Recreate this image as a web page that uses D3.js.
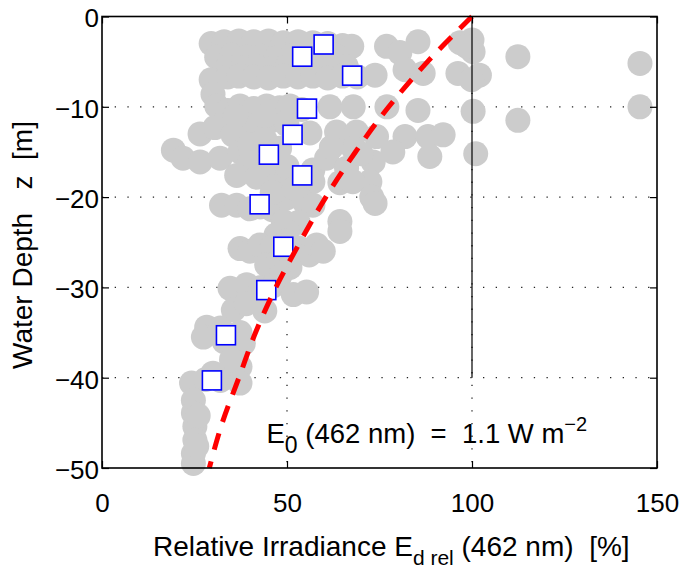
<!DOCTYPE html>
<html>
<head>
<meta charset="utf-8">
<script src="https://cdn.jsdelivr.net/npm/d3@7"></script>
<style>
  body { margin: 0; background: #fff; }
  svg { display: block; }
  text { font-family: "Liberation Sans", Arial, Helvetica, sans-serif; fill: #000; }
</style>
</head>
<body>
<svg id="drawing"></svg>
<script>
// grey circles: [relative irradiance %, depth m]
const grayPoints = [
    // top band
    [29.5,-3.0],[33,-2.8],[37,-2.7],[41,-2.8],[45,-2.7],[49,-2.9],[53,-2.8],[57,-2.9],[61,-3.0],[65,-3.2],[67.5,-3.3],
    [31,-4.5],[35,-4.3],[39,-4.5],[43,-4.4],[47,-4.6],[51,-4.4],[59,-4.5],[63,-4.3],
    [34,-5.6],[38,-5.7],[42,-5.6],[46,-5.7],[50,-5.6],[54,-5.7],[58,-5.6],[62,-5.7],[66,-5.5],
    [76.9,-3.3],[80.5,-4.0],[85.4,-2.8],[96.8,-2.9],[100,-2.6],[100.3,-3.9],[98.6,-3.3],
    [112.4,-4.45],[145.4,-5.2],
    // around -6.5
    [29.5,-7.0],[34,-6.7],[37,-6.6],[41,-6.7],[45,-6.8],[49,-6.6],[53,-6.7],[57,-6.6],[61,-6.8],[65,-6.6],[69,-6.7],[73.8,-6.5],
    [81.9,-5.9],[86.8,-6.3],[96.2,-6.3],[102,-6.5],[99.9,-7.0],[30,-8.6],
    // around -10
    [31,-9.9],[34,-10.4],[37.3,-9.9],[41,-10.2],[44.5,-9.9],[48,-10.1],[50.8,-9.9],[54,-10.3],[61.6,-10.0],[67.9,-10.0],
    [77,-10],[85.4,-10.4],[100.3,-10.5],[112.4,-11.5],[145.4,-10],
    [34,-12],[38,-11.8],[42,-12],[46,-11.5],[50,-12],[56.2,-12.9],[36,-11],[44,-11],
    // -12 to -18
    [63.4,-12.8],[68.8,-12.8],[74.2,-13.3],[81.9,-13.3],[88.1,-13.3],[92.2,-13.1],[78.6,-15],[88.6,-15.5],[101,-15.2],
    [19.3,-14.8],[21.9,-15.7],[26.5,-16.1],[26.5,-13],[30.5,-12.3],[31.9,-15.7],[35.4,-13.1],[37.3,-15],
    [40,-14.2],[44,-13.6],[48,-14.6],[40,-16.2],
    [36.4,-17.6],[41.8,-17.8],[48,-17.8],[46,-16.2],[50,-16.6],[57,-17],[60.7,-15.7],[66.1,-16.8],[67.9,-14.6],
    [73.3,-16.1],[72.4,-18.3],[64.3,-18.4],[57,-18.3],[67.8,-18.3],[70,-15.2],[62,-14.5],
    // around -21
    [32.3,-20.9],[36.4,-20.9],[40,-21.3],[42.7,-21.1],[46,-21.4],[49.9,-20.1],[54.6,-20.5],[57,-20.9],[46,-19.5],[52,-19],
    [72.9,-20],[73.8,-20.7],[64.3,-22.7],[64.3,-23.8],[49,-22.7],[53,-22.8],
    // around -26
    [50,-23.8],[47,-24.2],[37.3,-25.7],[40,-26],[42.7,-25.3],[46,-25.5],[49.9,-24.9],[53,-25.6],[56,-26.4],[58,-25.3],[59.8,-26],
    [44.5,-27.5],[47.5,-27.2],[50.8,-27.8],[48,-28.8],
    // around -30
    [34.6,-30.1],[39.1,-29.7],[43,-30],[46.3,-29.8],[51.7,-30.8],[55.3,-30.5],[42.7,-31.4],[35.5,-32.5],[39,-31.8],[44,-32.6],
    // around -35
    [28.3,-34.4],[27.4,-35.5],[32,-34.5],[37.3,-35],[38.2,-36.2],[33,-36],[37.3,-38.8],[35,-38],
    // around -40 and below
    [24.2,-40.6],[28,-40.2],[32,-40.3],[37.3,-40.6],[30,-39.5],
    [24.7,-42.5],[24.7,-43.9],[25.1,-45.4],[25.1,-46.9],[24.7,-48.4],[24.7,-49.5],[26,-44.2],[25.6,-47.6]
];

// blue squares
const squareX = [59.9, 54.1, 67.6, 55.4, 51.5, 45.1, 54.1, 42.6, 49.0, 44.4, 33.5, 29.7];
const squareZ = [-3.1, -4.45, -6.55, -10.2, -13.1, -15.3, -17.6, -20.8, -25.5, -30.3, -35.3, -40.3];

// red dashed profile
const lineZ = [0, -5, -10, -15, -20, -25, -30, -35, -40, -45, -50];
const lineE = [100, 88, 77.5, 68.5, 60.5, 53.5, 47, 41.5, 37, 32.5, 29];

const xTicks = [0, 50, 100, 150];
const yTicks = [0, -10, -20, -30, -40, -50];
const xGrid = [50, 100];
const yGrid = [-10, -20, -30, -40];

const width = 683, height = 569;
const margin = { top: 16.5, right: 26, bottom: 101, left: 102 };
const innerWidth = width - margin.left - margin.right;
const innerHeight = height - margin.top - margin.bottom;

const svg = d3.select('#drawing')
    .attr('width', width)
    .attr('height', height);

const chart = svg.append('g')
    .attr('transform', `translate(${margin.left}, ${margin.top})`);

const xscale = d3.scaleLinear().domain([0, 150]).range([0, innerWidth]);
const yscale = d3.scaleLinear().domain([-50, 0]).range([innerHeight, 0]);

// dotted grid
chart.selectAll('.gx').data(xGrid).enter().append('line')
    .attr('x1', d => xscale(d)).attr('x2', d => xscale(d))
    .attr('y1', 0).attr('y2', innerHeight)
    .attr('stroke', '#222').attr('stroke-width', 1.3)
    .attr('stroke-dasharray', '1.3,11.4');
chart.selectAll('.gy').data(yGrid).enter().append('line')
    .attr('x1', 0).attr('x2', innerWidth)
    .attr('y1', d => yscale(d)).attr('y2', d => yscale(d))
    .attr('stroke', '#222').attr('stroke-width', 1.3)
    .attr('stroke-dasharray', '1.3,11.4');

// grey measurements
chart.selectAll('circle').data(grayPoints).enter().append('circle')
    .attr('cx', d => xscale(d[0]))
    .attr('cy', d => yscale(d[1]))
    .attr('r', 12.5)
    .attr('fill', '#cccccc');

// 100 % reference line
chart.append('line')
    .attr('x1', xscale(100)).attr('x2', xscale(100))
    .attr('y1', yscale(0)).attr('y2', yscale(-40))
    .attr('stroke', '#000').attr('stroke-width', 1.2);

// squares
const sq = 19;
chart.selectAll('.sq').data(squareX).enter().append('rect')
    .attr('x', (d, i) => xscale(d) - sq / 2)
    .attr('y', (d, i) => yscale(squareZ[i]) - sq / 2)
    .attr('width', sq).attr('height', sq)
    .attr('fill', '#fff').attr('stroke', '#0000ff').attr('stroke-width', 1.6);

// red profile
const line = d3.line()
    .x((d, i) => xscale(lineE[i]))
    .y(d => yscale(d))
    .curve(d3.curveMonotoneY);
chart.append('path')
    .datum(lineZ)
    .attr('d', line)
    .attr('fill', 'none')
    .attr('stroke', '#ff0000')
    .attr('stroke-width', 5)
    .attr('stroke-dasharray', '17,12');

// axes (ticks inside, on every side)
const fontSize = 26;
const xaxis = d3.axisBottom(xscale).tickValues(xTicks).tickSizeInner(-7).tickSizeOuter(0).tickPadding(26);
const yaxis = d3.axisLeft(yscale).tickValues(yTicks).tickSizeInner(-7).tickSizeOuter(0).tickPadding(3)
    .tickFormat(d => d === 0 ? '0' : '\u2212' + Math.abs(d));
const xaxisTop = d3.axisTop(xscale).tickValues(xTicks).tickSizeInner(-7).tickSizeOuter(0);
const yaxisRight = d3.axisRight(yscale).tickValues(yTicks).tickSizeInner(-7).tickSizeOuter(0);

const gx = chart.append('g').attr('transform', `translate(0, ${innerHeight})`).call(xaxis);
const gy = chart.append('g').call(yaxis);
chart.append('g').attr('class', 'mirror').call(xaxisTop);
chart.append('g').attr('class', 'mirror').attr('transform', `translate(${innerWidth}, 0)`).call(yaxisRight);

chart.selectAll('.mirror text').remove();
chart.selectAll('.domain').remove();
chart.selectAll('.tick line').attr('stroke', '#000').attr('stroke-width', 1.2);
chart.selectAll('.tick text').attr('font-size', fontSize).attr('font-family', '"Liberation Sans", Arial, sans-serif').attr('fill', '#000');
gx.selectAll('.tick text').attr('dy', '0.71em');
gy.selectAll('.tick text').attr('dy', '0.4em');

// box
chart.append('rect')
    .attr('x', 0).attr('y', 0)
    .attr('width', innerWidth).attr('height', innerHeight)
    .attr('fill', 'none').attr('stroke', '#000').attr('stroke-width', 1.6);

// axis titles
const xt = svg.append('text')
    .attr('x', 153).attr('y', 556)
    .attr('font-size', 28);
xt.append('tspan').text('Relative Irradiance E');
xt.append('tspan').attr('font-size', 21).attr('dy', 8.5).text('d rel');
xt.append('tspan').attr('dy', -8.5).text(' (462 nm)\u00a0\u00a0[%]');

svg.append('text')
    .attr('transform', `translate(31.5, 245) rotate(-90)`)
    .attr('text-anchor', 'middle')
    .attr('font-size', 28)
    .text('Water Depth\u00a0\u00a0\u00a0z\u00a0\u00a0[m]');

// annotation
const ann = svg.append('text')
    .attr('x', 266.5).attr('y', 442.5)
    .attr('font-size', 27.5);
ann.append('tspan').text('E');
ann.append('tspan').attr('font-size', 23).attr('dy', 10).text('0');
ann.append('tspan').attr('dy', -10).text(' (462 nm)\u00a0\u00a0=\u00a0\u00a01.1 W m');
ann.append('tspan').attr('font-size', 20).attr('dy', -12).text('\u22122');
</script>
</body>
</html>
